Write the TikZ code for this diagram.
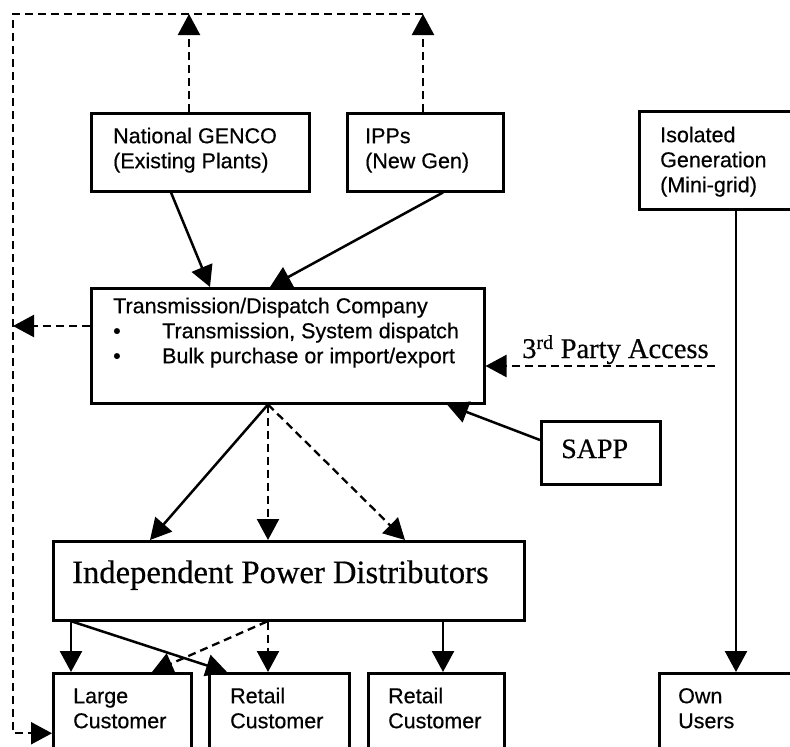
\documentclass[tikz,border=0pt]{standalone}
\usepackage{fontspec}
\setmainfont[FakeBold=0.5]{Liberation Serif}
\newfontfamily\arialf[FakeBold=0.5]{Liberation Sans}
\usetikzlibrary{arrows.meta,calc}
\newcommand\tst{\rule{0pt}{16pt}}
\begin{document}
\begin{tikzpicture}[x=1pt,y=-1pt,
  box/.style={draw, line width=2.5pt, inner sep=0pt, anchor=north west},
  txt/.style={inner sep=0pt, anchor=north west, align=left, font=\arialf\fontsize{21.5}{25}\selectfont},
  serif/.style={inner sep=0pt, anchor=base west},
  sol/.style={line width=2.5pt, -{Triangle[length=21pt,width=22pt]}},
  dsh/.style={line width=2.3pt, dash pattern=on 8pt off 5pt, -{Triangle[length=21pt,width=22pt]}},
]
\useasboundingbox (0,0) rectangle (790,747);
\clip (0,0) rectangle (790,747);

% boxes
\node[box, minimum width=218pt, minimum height=78pt] (gen) at (90,112) {};
\node[box, minimum width=156pt, minimum height=78pt] (ipp) at (346,112) {};
\node[box, minimum width=200pt, minimum height=98pt] (iso) at (638,110) {};
\node[box, minimum width=393pt, minimum height=115pt] (tdc) at (90,287) {};
\node[box, minimum width=119pt, minimum height=63pt] (sapp) at (540,420) {};
\node[box, minimum width=471pt, minimum height=79pt] (ipd) at (52,540) {};
\node[box, minimum width=138pt, minimum height=120pt] (lc) at (52,672) {};
\node[box, minimum width=140pt, minimum height=120pt] (rc1) at (208,672) {};
\node[box, minimum width=136pt, minimum height=120pt] (rc2) at (367,672) {};
\node[box, minimum width=200pt, minimum height=120pt] (own) at (658,672) {};

% texts
\node[txt] (gent) at (113,127) {\tst National GENCO\\(Existing Plants)};
\node[txt] (ippt) at (365,127) {\tst IPPs\\(New Gen)};
\node[txt] (isot) at (660,126) {\tst Isolated\\Generation\\(Mini-grid)};
\node[txt] (tdct) at (113,297) {\tst Transmission/Dispatch Company\\\makebox[49pt][l]{•}Transmission, System dispatch\\\makebox[49pt][l]{•}Bulk purchase or import/export};
\node[txt] (lct) at (73,687) {\tst Large\\Customer};
\node[txt] (rc1t) at (230,687) {\tst Retail\\Customer};
\node[txt] (rc2t) at (388,687) {\tst Retail\\Customer};
\node[txt] (ownt) at (678,687) {\tst Own\\Users};
\node[serif, font=\fontsize{32.6}{38}\selectfont] (ipdt) at (72,583) {Independent Power Distributors};
\node[serif, font=\fontsize{28}{30}\selectfont] (sappt) at (561,458) {SAPP};
\node[serif, font=\fontsize{28.5}{30}\selectfont] (tpt) at (522,358) {3\textsuperscript{rd} Party Access};

% coordinates
\coordinate (tl) at (13,14);
\coordinate (tr) at (423,14);
\coordinate (ga) at (189,14);
\coordinate (tp) at (715,366);
\coordinate (ox) at (736,0);

% dashed feedback network
\draw[dsh] (tr) -- (tl) |- (lc.west);
\draw[dsh] (gen.north -| ga) -- (ga);
\draw[dsh] (ipp.north -| tr) -- (tr);
\draw[dsh] ($(tdc.north west)+(0,39)$) coordinate (tw) -- (tw -| tl);
\draw[dsh] (tp) -- (tp -| tdc.east);

% generators to transmission
\draw[sol] ($(gen.south west)+(81,0)$) -- ($(tdc.north west)+(120,0)$);
\draw[sol] ($(ipp.south west)+(97,0)$) -- ($(tdc.north west)+(180,0)$);
\draw[sol] ($(sapp.north west)+(0,20)$) -- ($(tdc.south west)+(357,0)$);
\draw[sol] (iso.south -| ox) -- (own.north -| ox);

% transmission to distributors
\coordinate (tb) at ($(tdc.south west)+(178,0)$);
\draw[sol] (tb) -- ($(ipd.north west)+(98,0)$);
\draw[dsh] (tb) -- (tb |- ipd.north);
\draw[dsh] (tb) -- ($(ipd.north west)+(353,0)$);

% distributors to customers
\draw[sol] ($(ipd.south west)+(19,0)$) -- ($(lc.north west)+(19,0)$);
\draw[sol] ($(ipd.south west)+(20,0)$) -- ($(rc1.north west)+(19,0)$);
\draw[dsh] ($(ipd.south west)+(215,0)$) -- ($(lc.north west)+(100,0)$);
\draw[dsh] ($(ipd.south west)+(216,0)$) -- ($(rc1.north west)+(60,0)$);
\draw[sol] ($(ipd.south west)+(391,0)$) -- ($(rc2.north west)+(76,0)$);
\end{tikzpicture}
\end{document}
